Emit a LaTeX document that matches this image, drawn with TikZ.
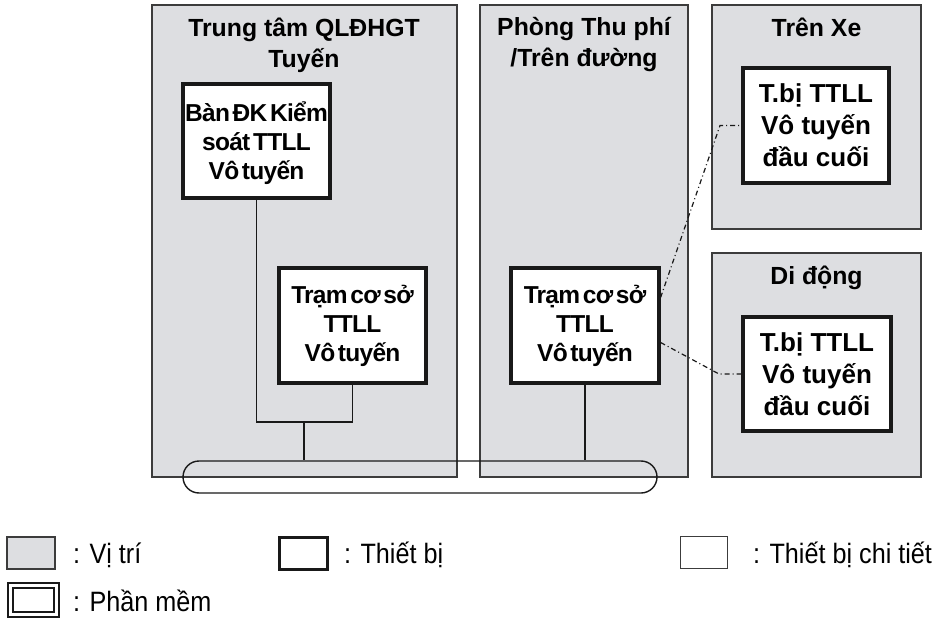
\documentclass[tikz,border=0pt]{standalone}
\usepackage{fontspec}
\setmainfont{Liberation Sans}
\newfontfamily\tightfont[LetterSpace=-3,WordSpace=0.45]{Liberation Sans}
\newfontfamily\keyfont[FakeStretch=0.9]{Liberation Sans}
\usetikzlibrary{calc}
\definecolor{zonefill}{RGB}{221,222,225}
\definecolor{zoneline}{RGB}{60,60,60}
\definecolor{inkblack}{RGB}{25,25,25}

\begin{document}
\begin{tikzpicture}[
  x=1pt, y=-1pt,
  zone/.style={draw=zoneline, fill=zonefill, line width=1.4pt, inner sep=0pt},
  zonetitle/.style={anchor=north, inner sep=0pt, align=center,
                    font=\fontsize{24.8}{31}\selectfont\bfseries},
  device/.style={draw=inkblack, fill=white, line width=3.2pt, inner sep=0pt,
                 align=center, minimum width=147pt, minimum height=115pt},
  tightdevice/.style={device, font=\tightfont\fontsize{24.5}{29}\selectfont\bfseries},
  termdevice/.style={device, font=\fontsize{26}{32}\selectfont\bfseries},
  wire/.style={draw=inkblack, line width=1.1pt},
  radio/.style={draw=inkblack, line width=1.2pt,
                dash pattern=on 5pt off 3pt on 1pt off 3pt},
  bus/.style={draw=inkblack, line width=1.4pt, rounded corners=16pt, inner sep=0pt},
  keybox/.style={minimum width=48pt, minimum height=32pt, inner sep=0pt},
  keytext/.style={anchor=base west, inner sep=0pt, font=\keyfont\fontsize{28}{32}\selectfont},
]
\useasboundingbox (0,0) rectangle (939,620);

% -------------------------------------------------------------------------
% Locations
% -------------------------------------------------------------------------
\node[zone, minimum width=305pt, minimum height=472pt] (trungtam) at (304.5,241) {};
\node[zonetitle] at (304,17.5) {Trung tâm QLĐHGT\\Tuyến};

\node[zone, minimum width=208pt, minimum height=472pt] (thuphi) at (584,241) {};
\node[zonetitle] at (584,17.5) {Phòng Thu phí\\/Trên đường};

\node[zone, minimum width=209pt, minimum height=224pt] (trenxe) at (816.5,117) {};
\node[zonetitle] at (816.5,17.5) {Trên Xe};

\node[zone, minimum width=209pt, minimum height=224pt] (didong) at (816.5,365) {};
\node[zonetitle] at (816.5,265.5) {Di động};

% -------------------------------------------------------------------------
% Equipment
% -------------------------------------------------------------------------
\node[tightdevice, minimum height=114pt] (bandk) at (256.5,141)
  {\rule{0pt}{24pt}Bàn ĐK Kiểm\\soát TTLL\\Vô tuyến};
\node[tightdevice] (tram1) at (352.5,325.5) {Trạm cơ sở\\TTLL\\Vô tuyến};
\node[tightdevice, minimum width=148pt] (tram2) at (585,325.5)
  {Trạm cơ sở\\TTLL\\Vô tuyến};
\node[termdevice, minimum width=146pt] (tbxe) at (816,125.5)
  {T.bị TTLL\\Vô tuyến\\đầu cuối};
\node[termdevice, minimum width=148pt, minimum height=114pt] (tbdd) at (817,374)
  {T.bị TTLL\\Vô tuyến\\đầu cuối};

% -------------------------------------------------------------------------
% Links
% -------------------------------------------------------------------------
\node[bus, minimum width=474pt, minimum height=32pt] (ring) at (420,477) {};

\coordinate (split) at (304,422);
\draw[wire] (bandk.south) |- (split) -| (tram1.south);
\draw[wire] (split) -- (split |- ring.north);
\draw[wire] (tram2.south) -- (tram2.south |- ring.north);

\coordinate (bendxe) at (720,125.5);
\coordinate (benddd) at (719,374);
\draw[radio] ([yshift=28pt]tram2.east) -- (bendxe) -- (tbxe.west);
\draw[radio] ([yshift=-17pt]tram2.east) -- (benddd) -- (tbdd.west);

% -------------------------------------------------------------------------
% Legend
% -------------------------------------------------------------------------
\node[zone, keybox] (keyzone) at (31,553) {};
\node[keytext] at (73,563) {: Vị trí};

\node[device, keybox] (keydevice) at (303.5,553.5) {};
\node[keytext] at (344,563) {: Thiết bị};

\node[keybox, draw=zoneline, line width=1pt, minimum width=47pt] (keydetail)
  at (704,552.5) {};
\node[keytext] at (753,563) {: Thiết bị chi tiết};

\node[keybox, draw=inkblack, line width=2pt, double=white, double distance=3pt,
      minimum width=46pt, minimum height=29pt] (keysoft) at (33.5,600) {};
\node[keytext] at (73,611) {: Phần mềm};
\end{tikzpicture}
\end{document}
